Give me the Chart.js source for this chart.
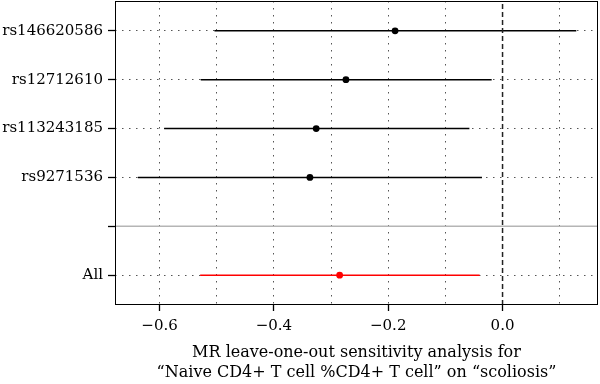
<!DOCTYPE html>
<html>
<head>
<meta charset="utf-8">
<script src="https://cdn.jsdelivr.net/npm/chart.js@4.4.0/dist/chart.umd.min.js"></script>
<style>
  html, body { margin: 0; padding: 0; background: #fff; }
  #wrap { width: 600px; height: 384px; }
</style>
</head>
<body>
<div id="wrap"><canvas id="c"></canvas></div>
<script>
// leave-one-out estimates
const snps = ['rs146620586', 'rs12712610', 'rs113243185', 'rs9271536', 'All'];
const rowPos = [6, 5, 4, 3, 1];
const beta = [-0.188, -0.274, -0.326, -0.337, -0.285];
const ciLow = [-0.504, -0.528, -0.592, -0.638, -0.529];
const ciHigh = [0.129, -0.019, -0.058, -0.036, -0.040];

const xGrid = [-0.6, -0.5, -0.4, -0.3, -0.2, -0.1, 0, 0.1];
const xLabelled = [-0.6, -0.4, -0.2, 0];
const yTicks = [1, 2, 3, 4, 5, 6];
const sepRow = 2;
const xMin = -0.678, xMax = 0.167, yMin = 0.39, yMax = 6.61;

const FONT = 'DejaVu Serif';
const rowColor = snps.map(s => s === 'All' ? '#ff0000' : '#000000');

const frame = {
    id: 'frame',
    afterDatasetsDraw(chart) {
        const { ctx, chartArea: a } = chart;
        ctx.save();
        ctx.strokeStyle = '#000';
        ctx.lineWidth = 1;
        ctx.strokeRect(a.left + 0.5, a.top + 0.5, a.right - a.left - 1, a.bottom - a.top - 1);
        ctx.restore();
    }
};

const datasets = [];

// separator and null line
datasets.push({
    type: 'line', data: [{ x: xMin, y: sepRow }, { x: xMax, y: sepRow }],
    borderColor: '#b5b5b5', borderWidth: 1.5, pointRadius: 0
});
datasets.push({
    type: 'line', data: [{ x: 0, y: yMin }, { x: 0, y: yMax }],
    borderColor: '#222', borderWidth: 1.5, borderDash: [5, 3], pointRadius: 0
});

// confidence intervals
snps.forEach((s, i) => {
    datasets.push({
        type: 'line',
        data: [{ x: ciLow[i], y: rowPos[i] }, { x: ciHigh[i], y: rowPos[i] }],
        borderColor: rowColor[i], borderWidth: 1.6, pointRadius: 0
    });
});

// point estimates
datasets.push({
    type: 'scatter',
    data: snps.map((s, i) => ({ x: beta[i], y: rowPos[i] })),
    pointBackgroundColor: rowColor,
    pointBorderColor: rowColor,
    pointRadius: 3.4,
    pointBorderWidth: 0
});

new Chart(document.getElementById('c'), {
    type: 'scatter',
    data: { datasets },
    plugins: [frame],
    options: {
        responsive: true,
        maintainAspectRatio: false,
        animation: false,
        layout: { autoPadding: false, padding: { top: 1, right: 2, left: 0, bottom: 0 } },
        plugins: { legend: { display: false }, tooltip: { enabled: false } },
        scales: {
            x: {
                type: 'linear', min: xMin, max: xMax,
                afterBuildTicks: (scale) => { scale.ticks = xGrid.map(v => ({ value: v })); },
                afterFit: (scale) => { scale.height = 79; scale.paddingLeft = 0; scale.paddingRight = 0; },
                ticks: {
                    autoSkip: false, maxRotation: 0, padding: 6,
                    color: '#000', font: { family: FONT, size: 15 },
                    callback: (v) => xLabelled.includes(v) ? v.toFixed(1).replace('-', '\u2212') : ''
                },
                grid: {
                    color: (ctx) => ctx.tick && ctx.tick.value === 0 ? 'rgba(0,0,0,0)' : '#555',
                    lineWidth: 1,
                    tickLength: 6,
                    tickColor: (ctx) => ctx.tick && xLabelled.includes(ctx.tick.value) ? '#000' : 'rgba(0,0,0,0)',
                    tickWidth: 1.3
                },
                border: { display: false, dash: [1.5, 5.5] },
                title: {
                    display: true,
                    text: ['MR leave-one-out sensitivity analysis for', '\u201cNaive CD4+ T cell %CD4+ T cell\u201d on \u201cscoliosis\u201d'],
                    color: '#000',
                    font: { family: FONT, size: 16, lineHeight: 1.25 },
                    padding: { top: 0, bottom: 1 }
                }
            },
            y: {
                type: 'linear', min: yMin, max: yMax,
                afterBuildTicks: (scale) => { scale.ticks = yTicks.map(v => ({ value: v })); },
                afterFit: (scale) => { scale.width = 115; scale.paddingTop = 0; scale.paddingBottom = 0; },
                ticks: {
                    autoSkip: false, padding: 5,
                    color: '#000', font: { family: FONT, size: 15 },
                    callback: (v) => { const i = rowPos.indexOf(v); return i >= 0 ? snps[i] : ''; }
                },
                grid: {
                    color: (ctx) => ctx.tick && ctx.tick.value === sepRow ? 'rgba(0,0,0,0)' : '#555',
                    lineWidth: 1,
                    tickLength: 7,
                    tickColor: '#000',
                    tickWidth: 1.3
                },
                border: { display: false, dash: [1.5, 5.5] }
            }
        }
    }
});
</script>
</body>
</html>
